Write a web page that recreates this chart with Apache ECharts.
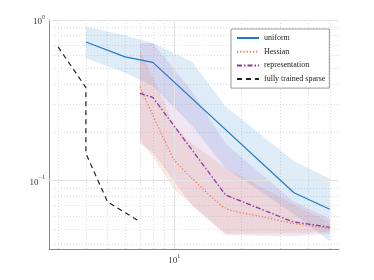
<!DOCTYPE html>
<html>
<head>
<meta charset="utf-8">
<script src="https://cdn.jsdelivr.net/npm/echarts@6/dist/echarts.min.js"></script>
<style>html,body{margin:0;padding:0;background:#fff;}#c{width:374px;height:280px;}</style>
</head>
<body>
<div id="c"></div>
<script>
// ---- data ----
const uniformX = [4, 6, 8, 34.5, 50];
const uniformY = [0.73, 0.59, 0.545, 0.0842, 0.0664];
const uniformBandX = [4, 6, 8, 12, 17, 34.5, 50];
const uniformBandHi = [0.91, 0.80, 0.72, 0.55, 0.29, 0.132, 0.103];
const uniformBandLo = [0.58, 0.47, 0.39, 0.22, 0.12, 0.062, 0.042];

const hessianX = [7, 8, 9, 10, 12, 17, 25, 34, 50];
const hessianY = [0.385, 0.256, 0.18, 0.1345, 0.1035, 0.0673, 0.0597, 0.0543, 0.0506];
const hessianBandX = [7, 8, 10, 12, 17, 34, 50];
const hessianBandHi = [0.65, 0.44, 0.22, 0.17, 0.12, 0.072, 0.055];
const hessianBandLo = [0.18, 0.14, 0.088, 0.071, 0.047, 0.047, 0.048];

const reprX = [7, 8, 17, 34, 50];
const reprY = [0.35, 0.33, 0.0815, 0.0556, 0.0513];
const reprBandX = [7, 8, 12, 17, 34, 50];
const reprBandHi = [0.72, 0.72, 0.36, 0.17, 0.075, 0.058];
const reprBandLo = [0.17, 0.15, 0.07, 0.046, 0.045, 0.047];

const sparseX = [3, 4, 4, 5, 7];
const sparseY = [0.68, 0.38, 0.148, 0.074, 0.0556];

const xMinorTicks = [3, 4, 5, 6, 7, 8, 9, 20, 30, 40, 50];
const yMinorTicks = [0.9, 0.8, 0.7, 0.6, 0.5, 0.4, 0.3, 0.2, 0.09, 0.08, 0.07, 0.06, 0.05, 0.04];
const xMajorTicks = [10];
const yMajorTicks = [1, 0.1];

const FONT = 'Liberation Serif';

function pairs(xs, ys) { return xs.map((x, i) => [x, ys[i]]); }

function band(name, xs, lo, hi, color, opacity, z) {
  return {
    type: 'custom', name: name, silent: true, z: z,
    data: xs.map((x, i) => [x, lo[i], hi[i]]),
    encode: { x: 0, y: [1, 2] },
    renderItem: function (params, api) {
      if (params.dataIndex !== 0) return;
      const pts = [];
      for (let i = 0; i < xs.length; i++) pts.push(api.coord([xs[i], hi[i]]));
      for (let i = xs.length - 1; i >= 0; i--) pts.push(api.coord([xs[i], lo[i]]));
      return { type: 'polygon', shape: { points: pts }, style: { fill: color, opacity: opacity } };
    }
  };
}

function supLabel(v) {
  const l = Math.log10(v);
  const e = Math.round(l);
  if (Math.abs(l - e) > 1e-6) return '';
  return '{b|10}{s|' + (e < 0 ? '\u2212' : '') + Math.abs(e) + '}';
}
const rich = {
  b: { fontSize: 9, fontFamily: FONT, color: '#333', lineHeight: 12, verticalAlign: 'bottom' },
  s: { fontSize: 6, fontFamily: FONT, color: '#333', lineHeight: 12, verticalAlign: 'top' }
};

const chart = echarts.init(document.getElementById('c'), null, { renderer: 'canvas' });
chart.setOption({
  animation: false,
  backgroundColor: '#fff',
  grid: { left: 49, right: 35, top: 20, bottom: 31 },
  xAxis: {
    type: 'log', logBase: 10, min: 2.73, max: 55,
    axisLine: { show: true, lineStyle: { color: '#888', width: 1 } },
    axisTick: { show: false },
    splitLine: { show: false },
    axisLabel: { formatter: supLabel, rich: rich, margin: 4 }
  },
  yAxis: {
    type: 'log', logBase: 10, min: 0.0376, max: 1,
    axisLine: { show: true, lineStyle: { color: '#888', width: 1 } },
    axisTick: { show: false },
    splitLine: { show: false },
    axisLabel: { formatter: supLabel, rich: rich, margin: 4 }
  },
  legend: {
    data: ['uniform', 'Hessian', 'representation', 'fully trained sparse'],
    orient: 'vertical', left: 231, top: 29,
    backgroundColor: '#fff', borderColor: '#999', borderWidth: 1, borderRadius: 0,
    padding: [5, 4, 5, 5],
    itemWidth: 22, itemHeight: 8, itemGap: 5.7,
    itemStyle: { opacity: 0 },
    textStyle: { fontFamily: FONT, fontSize: 8, color: '#222', lineHeight: 8 }
  },
  series: [
    {
      name: 'majorGrid', type: 'line', z: 0, symbol: 'none', silent: true, data: [],
      markLine: {
        silent: true, symbol: 'none', label: { show: false },
        lineStyle: { color: '#e4e4e4', width: 1, type: 'solid' },
        data: xMajorTicks.map(v => ({ xAxis: v })).concat(yMajorTicks.map(v => ({ yAxis: v })))
      }
    },
    band('uniformBand', uniformBandX, uniformBandLo, uniformBandHi, '#3d8fd6', 0.17, 1),
    band('hessianBand', hessianBandX, hessianBandLo, hessianBandHi, '#f08a5a', 0.17, 1),
    band('reprBand', reprBandX, reprBandLo, reprBandHi, '#9a5ab8', 0.15, 1),
    {
      name: 'fully trained sparse', type: 'line', z: 5, symbol: 'none',
      data: pairs(sparseX, sparseY),
      lineStyle: { color: '#222', width: 1.2, type: [5, 4] },
      itemStyle: { color: '#222' },
      markLine: {
        silent: true, symbol: 'none', label: { show: false }, z: 0,
        lineStyle: { color: '#d4d4d4', width: 0.8, type: [1, 2] },
        data: xMinorTicks.map(v => ({ xAxis: v })).concat(yMinorTicks.map(v => ({ yAxis: v })))
      }
    },
    {
      name: 'uniform', type: 'line', z: 5, symbol: 'none',
      data: pairs(uniformX, uniformY),
      lineStyle: { color: '#2179c4', width: 1.2 },
      itemStyle: { color: '#2179c4' }
    },
    {
      name: 'Hessian', type: 'line', z: 5, symbol: 'none', smooth: 0.2,
      data: pairs(hessianX, hessianY),
      lineStyle: { color: '#e8764a', width: 1.2, type: [1.2, 2] },
      itemStyle: { color: '#e8764a' }
    },
    {
      name: 'representation', type: 'line', z: 5, symbol: 'none',
      data: pairs(reprX, reprY),
      lineStyle: { color: '#8a3a9e', width: 1.3, type: [5, 2, 1.5, 2] },
      itemStyle: { color: '#8a3a9e' }
    }
  ]
});
</script>
</body>
</html>
